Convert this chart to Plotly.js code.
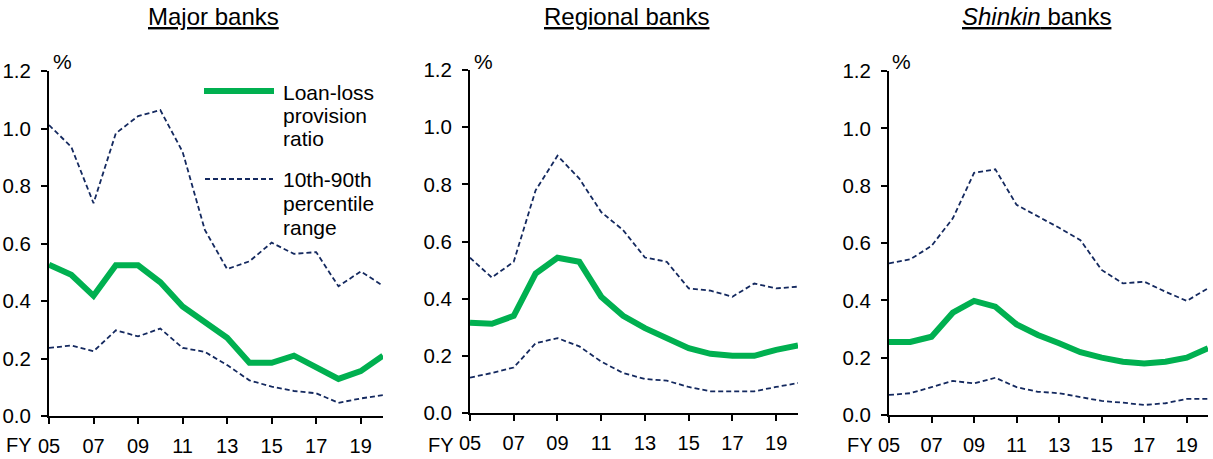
<!DOCTYPE html>
<html>
<head>
<meta charset="utf-8">
<script src="https://cdn.plot.ly/plotly-3.0.1.min.js"></script>
<style>html,body{margin:0;padding:0;background:#fff;}#chart{width:1213px;height:459px;}</style>
</head>
<body>
<div id="chart"></div>
<script>
// ---- data ----
const years = [2005,2006,2007,2008,2009,2010,2011,2012,2013,2014,2015,2016,2017,2018,2019,2020];
const tickYears = [2005,2007,2009,2011,2013,2015,2017,2019];
const tickLabels = ["05","07","09","11","13","15","17","19"];
const panelTitles = ["<u>Major banks</u>", "<u>Regional banks</u>", "<u><i>Shinkin</i> banks</u>"];

const majorRatio = [0.526,0.491,0.418,0.524,0.524,0.465,0.381,0.326,0.272,0.185,0.185,0.210,0.168,0.129,0.156,0.210];
const majorP90   = [1.012,0.936,0.740,0.983,1.043,1.064,0.919,0.647,0.511,0.538,0.603,0.564,0.570,0.451,0.503,0.453];
const majorP10   = [0.237,0.245,0.225,0.298,0.277,0.304,0.237,0.223,0.177,0.124,0.102,0.087,0.079,0.046,0.061,0.073];

const regionalRatio = [0.316,0.312,0.340,0.488,0.543,0.529,0.407,0.340,0.297,0.262,0.227,0.207,0.200,0.200,0.221,0.236];
const regionalP90   = [0.543,0.474,0.529,0.779,0.900,0.820,0.703,0.640,0.544,0.529,0.436,0.428,0.407,0.453,0.436,0.442];
const regionalP10   = [0.124,0.140,0.159,0.244,0.262,0.233,0.180,0.140,0.119,0.113,0.091,0.076,0.076,0.076,0.091,0.105];

const shinkinRatio = [0.255,0.255,0.273,0.357,0.398,0.378,0.316,0.279,0.250,0.219,0.200,0.186,0.180,0.186,0.200,0.233];
const shinkinP90   = [0.529,0.543,0.590,0.686,0.845,0.857,0.733,0.694,0.653,0.610,0.506,0.459,0.465,0.430,0.398,0.442];
const shinkinP10   = [0.070,0.076,0.097,0.119,0.110,0.130,0.097,0.081,0.076,0.062,0.049,0.043,0.035,0.041,0.056,0.056];

const legendRatio = ["Loan-loss","provision","ratio"];
const legendRange = ["10th-90th","percentile","range"];

// ---- styles ----
const W = 1213, H = 459;
const GREEN = "#00b050", NAVY = "#14295f";
const FONT = "Liberation Sans, Arial, sans-serif";
const px = v => v / W;
const py = v => 1 - v / H;

const panels = [
  {ratio: majorRatio, p90: majorP90, p10: majorP10, x0: 49, x1: 383, yTop: 71, yBot: 416, titleX: 213, pctX: 62, fyX: 19},
  {ratio: regionalRatio, p90: regionalP90, p10: regionalP10, x0: 470, x1: 798, yTop: 70, yBot: 413, titleX: 626, pctX: 483, fyX: 441},
  {ratio: shinkinRatio, p90: shinkinP90, p10: shinkinP10, x0: 889, x1: 1208, yTop: 71, yBot: 415, titleX: 1036, pctX: 901, fyX: 860}
];

const traces = [];
const layout = {
  width: W, height: H, autosize: false,
  margin: {l: 0, r: 0, t: 0, b: 0},
  paper_bgcolor: "#fff", plot_bgcolor: "#fff",
  showlegend: false,
  font: {family: FONT, size: 20, color: "#000"},
  annotations: [], shapes: []
};

panels.forEach((p, i) => {
  const s = i === 0 ? "" : String(i + 1);
  const xa = "x" + s, ya = "y" + s;
  [p.p90, p.p10].forEach(arr => traces.push({
    x: years, y: arr, xaxis: xa, yaxis: ya, mode: "lines", type: "scatter",
    line: {color: NAVY, width: 1.8, dash: "5px,3px"}, hoverinfo: "skip"
  }));
  traces.push({
    x: years, y: p.ratio, xaxis: xa, yaxis: ya, mode: "lines", type: "scatter",
    line: {color: GREEN, width: 6}, hoverinfo: "skip"
  });
  layout["xaxis" + s] = {
    domain: [px(p.x0), px(p.x1)], anchor: ya, range: [2005, 2020],
    tickmode: "array", tickvals: tickYears, ticktext: tickLabels,
    ticks: "outside", ticklen: 6, tickwidth: 2, tickcolor: "#000",
    showline: true, linecolor: "#000", linewidth: 2, showgrid: false, zeroline: false,
    tickfont: {family: FONT, size: 20, color: "#000"}, ticklabelstandoff: 5, fixedrange: true
  };
  layout["yaxis" + s] = {
    domain: [py(p.yBot), py(p.yTop)], anchor: xa, range: [0, 1.2],
    tickmode: "array", tickvals: [0, 0.2, 0.4, 0.6, 0.8, 1.0, 1.2],
    ticktext: ["0.0", "0.2", "0.4", "0.6", "0.8", "1.0", "1.2"],
    ticks: "outside", ticklen: 6, tickwidth: 2, tickcolor: "#000",
    showline: true, linecolor: "#000", linewidth: 2, showgrid: false, zeroline: false,
    tickfont: {family: FONT, size: 20.5, color: "#000"}, ticklabelstandoff: 6, fixedrange: true
  };
  layout.annotations.push({
    text: panelTitles[i], xref: "paper", yref: "paper", x: px(p.titleX), y: py(17),
    xanchor: "center", yanchor: "middle", showarrow: false,
    font: {family: FONT, size: 24, color: "#000"}
  });
  layout.annotations.push({
    text: "%", xref: "paper", yref: "paper", x: px(p.pctX), y: py(61),
    xanchor: "center", yanchor: "middle", showarrow: false,
    font: {family: FONT, size: 21, color: "#000"}
  });
  layout.annotations.push({
    text: "FY", xref: "paper", yref: "paper", x: px(p.fyX), y: py(445),
    xanchor: "center", yanchor: "middle", showarrow: false,
    font: {family: FONT, size: 20, color: "#000"}
  });
});

// legend (drawn in the first panel)
layout.shapes.push({type: "line", xref: "paper", yref: "paper",
  x0: px(204), x1: px(274), y0: py(91), y1: py(91), line: {color: GREEN, width: 6}});
layout.shapes.push({type: "line", xref: "paper", yref: "paper",
  x0: px(205), x1: px(273), y0: py(179), y1: py(179), line: {color: NAVY, width: 1.8, dash: "5px,3px"}});
legendRatio.forEach((t, k) => layout.annotations.push({
  text: t, xref: "paper", yref: "paper", x: px(281), y: py(92 + 23.5 * k),
  xanchor: "left", yanchor: "middle", showarrow: false, font: {family: FONT, size: 21, color: "#000"}
}));
legendRange.forEach((t, k) => layout.annotations.push({
  text: t, xref: "paper", yref: "paper", x: px(281), y: py(180 + 23.5 * k),
  xanchor: "left", yanchor: "middle", showarrow: false, font: {family: FONT, size: 21, color: "#000"}
}));

Plotly.newPlot("chart", traces, layout, {staticPlot: true, displayModeBar: false});
</script>
</body>
</html>
